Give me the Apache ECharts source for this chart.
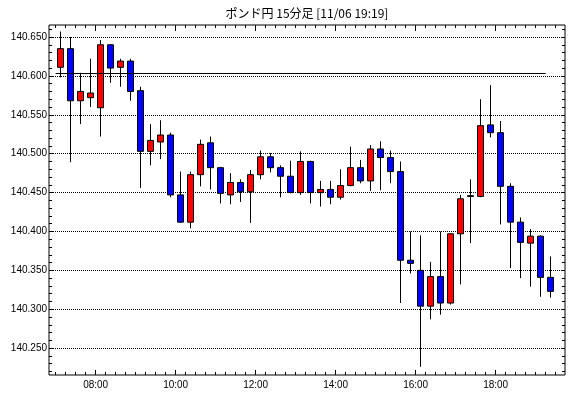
<!DOCTYPE html>
<html><head><meta charset="utf-8">
<script src="https://cdn.jsdelivr.net/npm/echarts@6/dist/echarts.min.js"></script>
<style>html,body{margin:0;padding:0;background:#fff}#c{width:570px;height:398px}</style>
</head><body><div id="c"></div>
<script>
const chartTitle = 'ポンド円 15分足 [11/06 19:19]';
const times = ['07:00','07:15','07:30','07:45','08:00','08:15','08:30','08:45','09:00','09:15',
  '09:30','09:45','10:00','10:15','10:30','10:45','11:00','11:15','11:30','11:45',
  '12:00','12:15','12:30','12:45','13:00','13:15','13:30','13:45','14:00','14:15',
  '14:30','14:45','15:00','15:15','15:30','15:45','16:00','16:15','16:30','16:45',
  '17:00','17:15','17:30','17:45','18:00','18:15','18:30','18:45','19:00','19:15'];
const opens = [140.611,140.635,140.568,140.572,140.559,140.640,140.611,140.619,140.581,140.503,
  140.515,140.524,140.447,140.412,140.473,140.514,140.482,140.447,140.463,140.451,
  140.473,140.496,140.482,140.471,140.450,140.490,140.450,140.454,140.444,140.459,
  140.482,140.465,140.506,140.495,140.477,140.363,140.350,140.304,140.342,140.308,
  140.397,140.445,140.445,140.537,140.527,140.458,140.412,140.385,140.394,140.341];
const closes = [140.635,140.568,140.580,140.578,140.640,140.610,140.619,140.580,140.503,140.517,
  140.524,140.447,140.412,140.473,140.512,140.482,140.449,140.463,140.451,140.473,
  140.496,140.482,140.471,140.450,140.490,140.450,140.454,140.444,140.459,140.482,
  140.465,140.506,140.495,140.477,140.363,140.359,140.304,140.342,140.308,140.397,
  140.442,140.446,140.536,140.527,140.458,140.412,140.386,140.394,140.341,140.323];
const lows = [140.598,140.489,140.538,140.560,140.522,140.591,140.586,140.568,140.456,140.485,
  140.493,140.444,140.411,140.404,140.458,140.454,140.436,140.435,140.438,140.411,
  140.467,140.476,140.444,140.449,140.447,140.436,140.432,140.435,140.441,140.458,
  140.462,140.452,140.453,140.462,140.308,140.346,140.226,140.287,140.293,140.306,
  140.332,140.385,140.444,140.521,140.409,140.353,140.340,140.329,140.316,140.315];
const highs = [140.657,140.650,140.604,140.622,140.646,140.641,140.622,140.622,140.586,140.538,
  140.543,140.527,140.477,140.477,140.518,140.522,140.483,140.475,140.467,140.479,
  140.504,140.501,140.485,140.491,140.503,140.491,140.465,140.465,140.480,140.509,
  140.492,140.511,140.516,140.504,140.490,140.400,140.395,140.361,140.400,140.398,
  140.447,140.467,140.570,140.588,140.542,140.462,140.418,140.403,140.395,140.368];
const xTickLabels = ['08:00','10:00','12:00','14:00','16:00','18:00'];
const yTickLabels = ['140.250','140.300','140.350','140.400','140.450','140.500','140.550','140.600','140.650'];
const refLevel = 140.604;
const refFrom = '07:00';
const refTo = '19:15';

function toMin(t){ const p = t.split(':'); return (+p[0])*60 + (+p[1]); }
function fmtMin(m){ const h = Math.floor(m/60), mm = m%60; return String(h).padStart(2,'0')+':'+String(mm).padStart(2,'0'); }

const candleData = times.map((t,i)=>[toMin(t)+7.5, opens[i], closes[i], lows[i], highs[i]]);
const xMajor = xTickLabels.map(toMin);
const xMinor = []; for (let m = toMin(times[0]); m <= toMin(times[times.length-1]) + 15; m += 15) xMinor.push(m);
const yMajor = yTickLabels.map(Number);
const yMinor = []; for (let k = 14022; k <= 14066; k++) yMinor.push(k/100);

const XMIN = 410, XMAX = 1184, YMIN = 140.2155, YMAX = 140.6654;
const font = '"Liberation Sans", Arial, sans-serif';

function xAx(pos, ticks, len, labels){
  return { type:'value', position: pos, min: XMIN, max: XMAX, gridIndex:0,
    axisLine:{show:false}, splitLine:{show:false},
    axisTick:{show:true, inside:true, length:len, customValues: ticks, lineStyle:{color:'#000', width:1}},
    axisLabel: labels ? {show:true, customValues: ticks, formatter: v=>fmtMin(v), color:'#000', fontSize:10, fontFamily:font, margin:5} : {show:false}
  };
}
function yAx(pos, ticks, len, labels, split){
  return { type:'value', position: pos, min: YMIN, max: YMAX, gridIndex:0, scale:true,
    axisLine:{show:false},
    splitLine: split ? {show:true, lineStyle:{color:'#000', type:[1,1], width:1}} : {show:false},
    axisTick:{show:true, inside:true, length:len, customValues: ticks, lineStyle:{color:'#000', width:1}},
    axisLabel: labels ? {show:true, customValues: ticks, formatter: v=>v.toFixed(3), color:'#000', fontSize:10, fontFamily:font, margin:2} : {show:false}
  };
}

const chart = echarts.init(document.getElementById('c'), null, {renderer:'canvas'});
chart.setOption({
  animation:false,
  backgroundColor:'#fff',
  graphic:[{type:'text', x:307, y:13, style:{text: chartTitle, fill:'#000', font:'12px "Noto Sans CJK JP", sans-serif', textAlign:'center', textVerticalAlign:'middle'}}],
  grid:{left:49, right:5, top:25, bottom:23, show:true, borderColor:'#000', borderWidth:1, backgroundColor:'#fff'},
  xAxis:[ xAx('bottom', xMinor, 3, false), xAx('bottom', xMajor, 5, true), xAx('top', xMinor, 3, false), xAx('top', xMajor, 6, false) ],
  yAxis:[ yAx('left', yMajor, 4, true, true), yAx('left', yMinor, 3, false, false), yAx('right', yMinor, 3, false, false), yAx('right', yMajor, 4, false, false) ],
  series:[{
    type:'candlestick', xAxisIndex:0, yAxisIndex:0,
    encode:{x:0, y:[1,2,3,4]},
    data: candleData,
    barWidth: 7,
    itemStyle:{color:'#ff0000', color0:'#0000ff', borderColor:'#000', borderColor0:'#000', borderColorDoji:'#000', borderWidth:1},
    markLine:{silent:true, symbol:['none','none'], label:{show:false},
      lineStyle:{color:'#000', type:'solid', width:1},
      data:[[{coord:[toMin(refFrom), refLevel]},{coord:[toMin(refTo), refLevel]}]]}
  }]
});
</script></body></html>
